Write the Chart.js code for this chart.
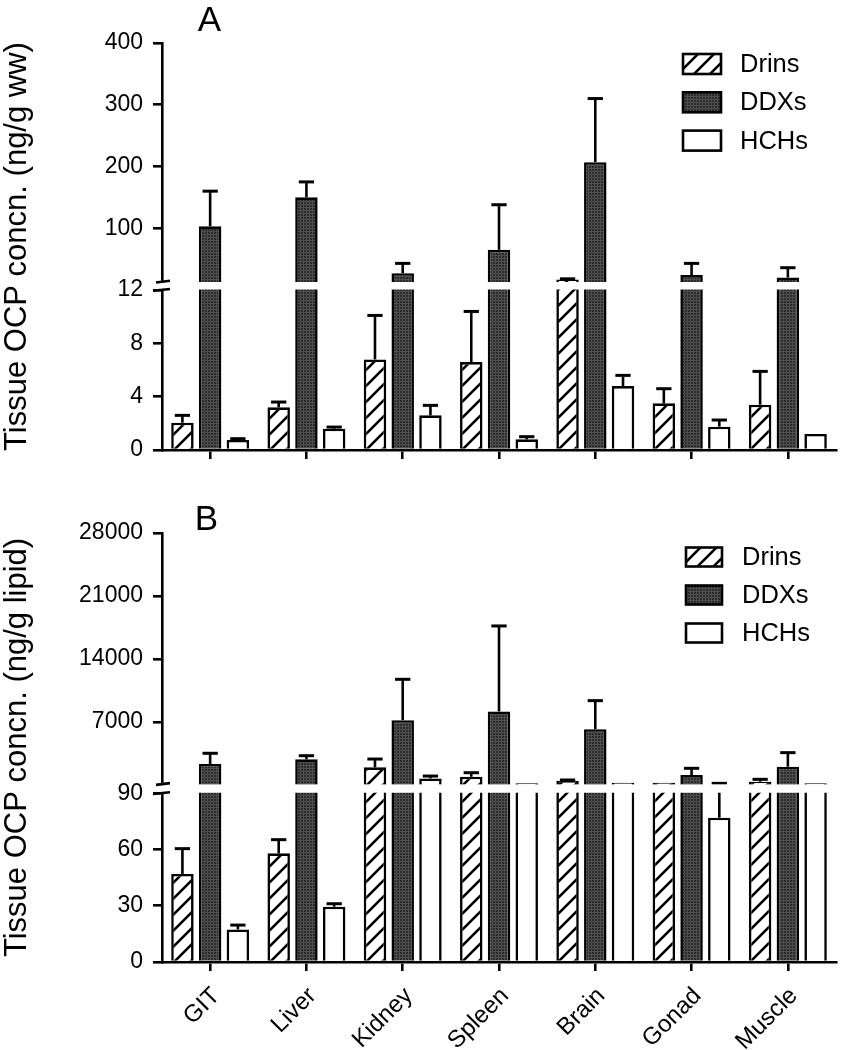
<!DOCTYPE html>
<html>
<head>
<meta charset="utf-8">
<title>Tissue OCP concentrations</title>
<script src="https://cdn.jsdelivr.net/npm/chart.js@4.4.1/dist/chart.umd.min.js"></script>
<style>
  html, body { margin: 0; padding: 0; background: #fff; }
  #page { position: relative; width: 851px; height: 1050px; }
  .panel { position: absolute; left: 0; width: 851px; }
  #wrapA { top: 0; height: 480px; }
  #wrapB { top: 480px; height: 570px; }
</style>
</head>
<body>
<div id="page">
  <div class="panel" id="wrapA"><canvas id="chartA"></canvas></div>
  <div class="panel" id="wrapB"><canvas id="chartB"></canvas></div>
</div>
<script>
const tissues = ['GIT', 'Liver', 'Kidney', 'Spleen', 'Brain', 'Gonad', 'Muscle'];
const seriesNames = ['Drins', 'DDXs', 'HCHs'];

// Panel A, ng/g wet weight (mean and upper error)
const drinsWW = [2.05, 3.2, 6.8, 6.6, 17, 3.5, 3.4];
const drinsWWErr = [0.55, 0.4, 3.3, 3.8, 1, 1.1, 2.5];
const ddxWW = [103, 150, 27, 65, 207, 24, 20];
const ddxWWErr = [57, 25, 16, 73, 103, 19, 16];
const hchWW = [0.75, 1.6, 2.6, 0.8, 4.8, 1.75, 1.2];
const hchWWErr = [0.1, 0.12, 0.75, 0.2, 0.8, 0.5, 0];

// Panel B, ng/g lipid
const drinsLip = [47, 58, 1960, 910, 470, 245, 360];
const drinsLipErr = [13.5, 7.3, 920, 450, 80, 0, 265];
const ddxLip = [2330, 2850, 7200, 8170, 6200, 1100, 2030];
const ddxLipErr = [1190, 400, 4540, 9500, 3170, 750, 1560];
const hchLip = [17.4, 29.5, 730, 180, 245, 77, 180];
const hchLipErr = [2.3, 1.6, 260, 0, 0, 101, 0];

// tick labels of the two segments of each broken axis
const ticksLowA = [0, 4, 8, 12];
const ticksHighA = [100, 200, 300, 400];
const ticksLowB = [0, 30, 60, 90];
const ticksHighB = [7000, 14000, 21000, 28000];

const FONT = '"Liberation Sans", Arial, Helvetica, sans-serif';
Chart.defaults.font.family = FONT;
Chart.defaults.color = '#000';

function hatchPattern() {
  const s = 16;
  const c = document.createElement('canvas');
  c.width = s; c.height = s;
  const g = c.getContext('2d');
  g.fillStyle = '#fff';
  g.fillRect(0, 0, s, s);
  g.strokeStyle = '#000';
  g.lineWidth = 2.6;
  g.beginPath();
  g.moveTo(0, s); g.lineTo(s, 0);
  g.moveTo(-3, 3); g.lineTo(3, -3);
  g.moveTo(s - 3, s + 3); g.lineTo(s + 3, s - 3);
  g.stroke();
  return g.createPattern(c, 'repeat');
}

function meshPattern() {
  const s = 3;
  const c = document.createElement('canvas');
  c.width = s; c.height = s;
  const g = c.getContext('2d');
  g.fillStyle = '#2c2c2c';
  g.fillRect(0, 0, s, s);
  g.fillStyle = '#4e4e4e';
  g.fillRect(0, 0, s, 1);
  g.fillRect(0, 0, 1, s);
  return g.createPattern(c, 'repeat');
}

const fills = [hatchPattern(), meshPattern(), '#fff'];

// draws error bars, the axis break, legend, axis title and panel letter
const decorations = {
  id: 'decorations',
  afterDatasetsDraw(chart, args, o) {
    const ctx = chart.ctx;
    const area = chart.chartArea;
    const yLow = chart.scales.yLow, yHigh = chart.scales.yHigh;
    const pix = v => v > o.lowTop ? yHigh.getPixelForValue(v) : yLow.getPixelForValue(v);
    ctx.save();
    ctx.strokeStyle = '#000';
    ctx.lineWidth = 2.6;
    o.values.forEach((vals, s) => {
      const meta = chart.getDatasetMeta(s);
      vals.forEach((v, i) => {
        const e = o.errors[s][i];
        if (!e) return;
        const bar = meta.data[i];
        const y0 = pix(v), y1 = pix(v + e);
        const half = bar.width * 0.34;
        ctx.beginPath();
        ctx.moveTo(bar.x, y0); ctx.lineTo(bar.x, y1);
        ctx.stroke();
        ctx.lineWidth = 3;
        ctx.beginPath();
        ctx.moveTo(bar.x - half, y1); ctx.lineTo(bar.x + half, y1);
        ctx.stroke();
        ctx.lineWidth = 2.6;
      });
    });
    // white gap of the broken axis
    const cut = yLow.top;
    const t = cut - o.gapAbove, b = cut + o.gapBelow;
    ctx.fillStyle = '#fff';
    ctx.fillRect(area.left - 2, t, area.right - area.left + 12, b - t);
    ctx.lineWidth = 2.6;
    ctx.beginPath();
    ctx.moveTo(area.left - 6, t + 0.5); ctx.lineTo(area.left + 8, t - 1.2);
    ctx.moveTo(area.left - 9, b + 1.2); ctx.lineTo(area.left + 8, b - 0.5);
    ctx.stroke();
    ctx.restore();
  },
  afterDraw(chart, args, o) {
    const ctx = chart.ctx;
    const area = chart.chartArea;
    ctx.save();
    // legend
    const L = o.legend;
    ctx.lineWidth = 2.6;
    ctx.strokeStyle = '#000';
    seriesNames.forEach((name, k) => {
      const cy = L.y + k * L.step;
      ctx.fillStyle = fills[k];
      ctx.fillRect(L.x, cy - L.h / 2, L.w, L.h);
      ctx.strokeRect(L.x, cy - L.h / 2, L.w, L.h);
      ctx.fillStyle = '#000';
      ctx.font = '25.5px ' + FONT;
      ctx.textAlign = 'left';
      ctx.textBaseline = 'middle';
      ctx.fillText(name, L.textX, cy + 1);
    });
    // y axis title
    ctx.save();
    ctx.translate(o.titleX, (area.top + area.bottom) / 2);
    ctx.rotate(-Math.PI / 2);
    ctx.font = '31px ' + FONT;
    ctx.textAlign = 'center';
    ctx.textBaseline = 'alphabetic';
    ctx.fillText(o.title, 0, 0);
    ctx.restore();
    // panel letter
    ctx.font = '35px ' + FONT;
    ctx.textAlign = 'center';
    ctx.textBaseline = 'alphabetic';
    ctx.fillText(o.letter, o.letterX, o.letterY);
    ctx.restore();
  }
};

function makePanel(id, p) {
  const low = p.values.map(vals => vals.map(v => Math.min(v, p.lowMax)));
  const high = p.values.map(vals => vals.map(v => v > p.lowTop ? v : null));
  const ds = [];
  seriesNames.forEach((name, k) => ds.push({
    label: name, data: low[k], yAxisID: 'yLow', stack: name,
    backgroundColor: fills[k], borderColor: '#000', borderWidth: 2.6
  }));
  seriesNames.forEach((name, k) => ds.push({
    label: name, data: high[k], yAxisID: 'yHigh', stack: name, base: p.highMin,
    backgroundColor: fills[k], borderColor: '#000', borderWidth: 2.6
  }));
  const yCommon = {
    position: 'left', stack: 'y', stacked: false, beginAtZero: false,
    border: { color: '#000', width: 2.6 },
    grid: { drawOnChartArea: false, drawTicks: true, tickLength: 9, color: '#000', lineWidth: 2.6 },
    ticks: { font: { size: 23 }, color: '#000', padding: 10, autoSkip: false, callback: v => String(v) },
    afterFit: s => { s.width = 100; }
  };
  return new Chart(document.getElementById(id), {
    type: 'bar',
    data: { labels: tissues, datasets: ds },
    options: {
      responsive: true,
      maintainAspectRatio: false,
      animation: false,
      categoryPercentage: 0.864,
      barPercentage: 0.81,
      layout: { padding: p.padding },
      scales: {
        x: {
          type: 'category',
          border: { color: '#000', width: 2.6 },
          grid: { offset: false, drawOnChartArea: false, drawTicks: true, tickLength: 9, color: '#000', lineWidth: 2.6 },
          ticks: {
            display: p.showLabels, font: { size: 24 }, color: '#000',
            minRotation: 45, maxRotation: 45, autoSkip: false, padding: 11, labelOffset: 6
          },
          afterFit: s => { s.height = p.xHeight; }
        },
        yLow: Object.assign({}, yCommon, {
          min: 0, max: p.lowMax, weight: 0, stackWeight: p.lowWeight,
          afterBuildTicks: s => { s.ticks = p.lowTicks.map(v => ({ value: v })); }
        }),
        yHigh: Object.assign({}, yCommon, {
          min: p.highMin, max: p.highMax, weight: 1, stackWeight: p.highWeight,
          afterBuildTicks: s => { s.ticks = p.highTicks.map(v => ({ value: v })); }
        })
      },
      plugins: {
        legend: { display: false },
        tooltip: { enabled: false },
        decorations: {
          values: p.values, errors: p.errors, lowTop: p.lowTop,
          gapAbove: p.gapAbove, gapBelow: p.gapBelow,
          legend: p.legend, title: p.title, titleX: 25.5,
          letter: p.letter, letterX: p.letterX, letterY: p.letterY
        }
      }
    },
    plugins: [decorations]
  });
}

makePanel('chartA', {
  values: [drinsWW, ddxWW, hchWW],
  errors: [drinsWWErr, ddxWWErr, hchWWErr],
  lowTicks: ticksLowA, highTicks: ticksHighA,
  lowTop: 12, lowMax: 12.57, highMin: 12, highMax: 400,
  lowWeight: 167.6, highWeight: 239.7,
  gapAbove: 0.5, gapBelow: 7,
  padding: { top: 43, left: 62, right: 15, bottom: 0 },
  xHeight: 30, showLabels: false,
  legend: { x: 683, y: 64, step: 38.3, w: 38, h: 20, textX: 740 },
  title: 'Tissue OCP concn. (ng/g ww)',
  letter: 'A', letterX: 209.5, letterY: 31
});

makePanel('chartB', {
  values: [drinsLip, ddxLip, hchLip],
  errors: [drinsLipErr, ddxLipErr, hchLipErr],
  lowTicks: ticksLowB, highTicks: ticksHighB,
  lowTop: 90, lowMax: 94.5, highMin: 0, highMax: 28000,
  lowWeight: 176.8, highWeight: 251.6,
  gapAbove: 0.6, gapBelow: 7.8,
  padding: { top: 53, left: 62, right: 15, bottom: 0 },
  xHeight: 88, showLabels: true,
  legend: { x: 686, y: 77, step: 38, w: 36, h: 19, textX: 742 },
  title: 'Tissue OCP concn. (ng/g lipid)',
  letter: 'B', letterX: 206.5, letterY: 50
});
</script>
</body>
</html>
